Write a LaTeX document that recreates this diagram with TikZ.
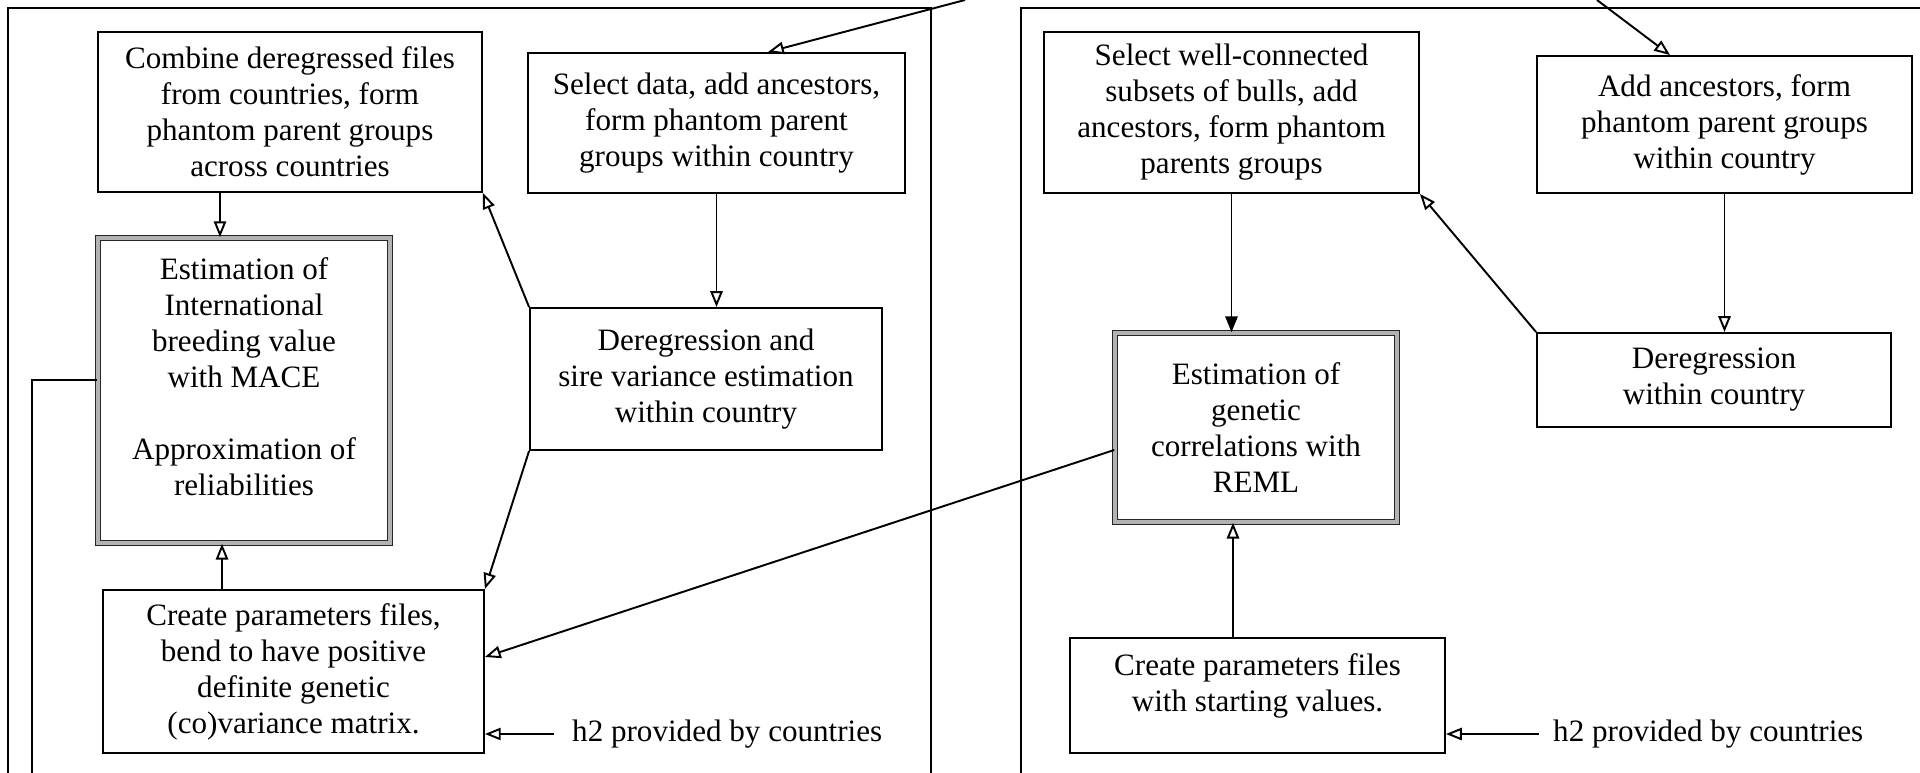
\documentclass[tikz,border=0pt]{standalone}
\usepackage{fontspec}
\setmainfont{Liberation Serif}
\usetikzlibrary{arrows.meta,positioning,calc}

\begin{document}
\begin{tikzpicture}[x=0.02cm,y=-0.02cm,
      font=\fontsize{17.7}{20.5}\selectfont,
      proc/.style={draw,line width=1.1pt,align=center,inner sep=2pt},
      est/.style={proc,draw=black!85,line width=0.9pt,double=gray!60,double distance=2pt},
      lbl/.style={inner sep=0.3333em},
      ar/.style={-{Triangle[open,length=9pt,width=7pt]},line width=1.1pt},
      arf/.style={-{Triangle[length=9pt,width=7pt]},line width=1.1pt},
      ln/.style={line width=1.1pt},
      frame/.style={line width=0.6pt},
    ]
    \useasboundingbox (0,0) rectangle (1920,773);

    \draw[frame] (8,773) |- (931,8) -- (931,773);
    \draw[frame] (1021,773) |- (1920,8);

    \node[proc,minimum width=7.68cm,minimum height=3.2cm] (comb) at (290,112)
      {Combine deregressed files\\from countries, form\\phantom parent groups\\across countries};
    \node[proc,minimum width=7.54cm,minimum height=2.8cm] (seld) at (716.5,123)
      {Select data, add ancestors,\\form phantom parent\\groups within country};
    \node[est,minimum width=5.84cm,minimum height=6.1cm] (mace) at (244,390.5)
      {Estimation of\\International\\breeding value\\with MACE\\[20.5pt]Approximation of\\reliabilities\\[-0.15cm]\mbox{}};
    \node[proc,minimum width=7.04cm,minimum height=2.84cm] (dereg) at (706,379)
      {Deregression and\\sire variance estimation\\within country};
    \node[proc,minimum width=7.62cm,minimum height=3.26cm] (param) at (293.5,671.5)
      {Create parameters files,\\bend to have positive\\definite genetic\\(co)variance matrix.};
    \node[lbl,anchor=west] (h2a) at (566,734) {h2 provided by countries};

    \node[proc,minimum width=7.5cm,minimum height=3.22cm] (selw) at (1231.5,112.5)
      {Select well-connected\\subsets of bulls, add\\ancestors, form phantom\\parents groups};
    \node[proc,minimum width=7.5cm,minimum height=2.74cm] (adda) at (1724.5,124.5)
      {Add ancestors, form\\phantom parent groups\\within country};
    \node[est,minimum width=5.64cm,minimum height=3.78cm] (reml) at (1256,427.5)
      {Estimation of\\genetic\\correlations with\\REML};
    \node[proc,minimum width=7.08cm,minimum height=1.88cm] (dereg2) at (1714,380)
      {Deregression\\within country};
    \node[proc,minimum width=7.5cm,minimum height=2.3cm] (start) at (1257.5,695.5)
      {Create parameters files\\with starting values.\\[-0.2cm]\mbox{}};
    \node[lbl,anchor=west] (h2b) at (1547,734) {h2 provided by countries};

    \coordinate (topL) at (965,0);
    \coordinate (topR) at (1597,0);
    \coordinate (macedown) at (32,773);

    \draw[ar] (topL) -- ([xshift=1.03cm]seld.north);
    \draw[ar] ([xshift=-1.4cm]comb.south) -- ([xshift=-1.4cm]comb.south |- mace.north);
    \draw[ar] ([xshift=-1.43cm]param.north) -- ([xshift=-1.43cm]param.north |- mace.south);
    \draw[ar] (seld.south) -- (seld.south |- dereg.north);
    \draw[ar] (dereg.north west) -- (comb.south east);
    \draw[ar] (dereg.south west) -- (param.north east);
    \draw[ar] ([yshift=-0.45cm]reml.west) -- ([yshift=0.29cm]param.east);
    \draw[ar] ([xshift=-0.24cm]h2a.west) -- (h2a.west -| param.east);
    \draw[ln] ([yshift=0.21cm]mace.west) -| (macedown);

    \draw[ar] (topR) -- ([xshift=-1.09cm]adda.north);
    \draw[arf] (selw.south) -- (selw.south |- reml.north);
    \draw[ar] ([xshift=-0.49cm]start.north) -- ([xshift=-0.49cm]start.north |- reml.south);
    \draw[ar] (dereg2.north west) -- (selw.south east);
    \draw[ar] (adda.south) -- (adda.south |- dereg2.north);
    \draw[ar] ([xshift=-0.16cm]h2b.west) -- (h2b.west -| start.east);
  \end{tikzpicture}
\end{document}
